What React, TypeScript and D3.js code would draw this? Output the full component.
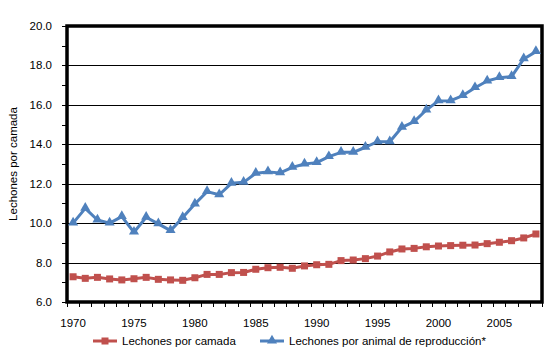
import { useEffect, useRef } from "react";
import * as d3 from "d3";

const years = d3.range(1970, 2009).map(String);

const porCamada = [
  7.28, 7.2, 7.25, 7.17, 7.12, 7.18, 7.25, 7.15, 7.12, 7.1, 7.23, 7.4, 7.4,
  7.49, 7.5, 7.66, 7.74, 7.76, 7.71, 7.83, 7.89, 7.91, 8.1, 8.13, 8.2, 8.33,
  8.54, 8.69, 8.72, 8.8, 8.84, 8.86, 8.88, 8.89, 8.96, 9.03, 9.11, 9.25, 9.45,
];

const porAnimal = [
  10.0, 10.75, 10.16, 10.0, 10.33, 9.54, 10.3, 9.96, 9.62, 10.28, 10.97, 11.6,
  11.44, 12.02, 12.07, 12.53, 12.6, 12.55, 12.83, 13.0, 13.07, 13.37, 13.59,
  13.59, 13.85, 14.13, 14.13, 14.86, 15.15, 15.74, 16.2, 16.21, 16.47, 16.87,
  17.21, 17.38, 17.43, 18.33, 18.7,
];

const yTicks = [6, 8, 10, 12, 14, 16, 18, 20];
const xLabels = ["1970", "1975", "1980", "1985", "1990", "1995", "2000", "2005"];

const RED = "#C0504D";
const BLUE = "#4F81BD";

export default function App() {
  const svgRef = useRef<SVGSVGElement>(null);

  useEffect(() => {
    if (!svgRef.current) return;
    const width = 550;
    const height = 351;
    const m = { left: 67, right: 8, top: 26, bottom: 49 };

    const svg = d3.select(svgRef.current);
    svg.selectAll("*").remove();
    svg.attr("width", width).attr("height", height);

    const font = "Liberation Sans, Arial, sans-serif";

    const x = d3
      .scaleBand<string>()
      .domain(years)
      .range([m.left, width - m.right]);
    const y = d3
      .scaleLinear()
      .domain([6, 20])
      .range([height - m.bottom, m.top]);
    const cx = (i: number) => (x(years[i]) ?? 0) + x.bandwidth() / 2;

    // gridlines
    svg
      .append("g")
      .selectAll("line")
      .data(yTicks.slice(1, -1))
      .join("line")
      .attr("x1", m.left)
      .attr("x2", width - m.right)
      .attr("y1", (d) => Math.round(y(d)) + 0.5)
      .attr("y2", (d) => Math.round(y(d)) + 0.5)
      .attr("stroke", "#000")
      .attr("stroke-width", 1);

    // y ticks, one per unit
    svg
      .append("g")
      .selectAll("line")
      .data(d3.range(6, 21, 1))
      .join("line")
      .attr("x1", m.left - 5)
      .attr("x2", m.left)
      .attr("y1", (d) => Math.round(y(d)) + 0.5)
      .attr("y2", (d) => Math.round(y(d)) + 0.5)
      .attr("stroke", "#000")
      .attr("stroke-width", 1);

    // x ticks at category boundaries
    const bounds = years.map((yr) => x(yr) ?? 0).concat([width - m.right]);
    svg
      .append("g")
      .selectAll("line")
      .data(bounds)
      .join("line")
      .attr("x1", (d) => Math.round(d) + 0.5)
      .attr("x2", (d) => Math.round(d) + 0.5)
      .attr("y1", height - m.bottom)
      .attr("y2", height - m.bottom + 5)
      .attr("stroke", "#000")
      .attr("stroke-width", 1);

    // plot border
    svg
      .append("rect")
      .attr("x", m.left)
      .attr("y", m.top)
      .attr("width", width - m.left - m.right)
      .attr("height", height - m.top - m.bottom)
      .attr("fill", "none")
      .attr("stroke", "#000")
      .attr("stroke-width", 3.5);

    // y labels
    svg
      .append("g")
      .selectAll("text")
      .data(yTicks)
      .join("text")
      .attr("x", m.left - 15)
      .attr("y", (d) => y(d))
      .attr("dy", "0.35em")
      .attr("text-anchor", "end")
      .attr("font-family", font)
      .attr("font-size", 11.5)
      .text((d) => d.toFixed(1));

    // x labels
    svg
      .append("g")
      .selectAll("text")
      .data(xLabels)
      .join("text")
      .attr("x", (d) => (x(d) ?? 0) + x.bandwidth() / 2)
      .attr("y", height - m.bottom + 25)
      .attr("text-anchor", "middle")
      .attr("font-family", font)
      .attr("font-size", 11.5)
      .text((d) => d);

    // y title
    svg
      .append("text")
      .attr("transform", `translate(17,${(m.top + height - m.bottom) / 2}) rotate(-90)`)
      .attr("text-anchor", "middle")
      .attr("font-family", font)
      .attr("font-size", 11.5)
      .text("Lechones por camada");

    const line = d3
      .line<number>()
      .x((_, i) => cx(i))
      .y((d) => y(d));

    const tri = d3.symbol().type(d3.symbolTriangle).size(44);

    // blue series
    svg
      .append("path")
      .datum(porAnimal)
      .attr("d", line)
      .attr("fill", "none")
      .attr("stroke", BLUE)
      .attr("stroke-width", 3)
      .attr("stroke-linejoin", "round");
    svg
      .append("g")
      .selectAll("path")
      .data(porAnimal)
      .join("path")
      .attr("d", tri()!)
      .attr("transform", (d, i) => `translate(${cx(i)},${y(d) - 0.5})`)
      .attr("fill", BLUE);

    // red series
    svg
      .append("path")
      .datum(porCamada)
      .attr("d", line)
      .attr("fill", "none")
      .attr("stroke", RED)
      .attr("stroke-width", 3)
      .attr("stroke-linejoin", "round");
    svg
      .append("g")
      .selectAll("rect")
      .data(porCamada)
      .join("rect")
      .attr("x", (_, i) => cx(i) - 3.5)
      .attr("y", (d) => y(d) - 3.5)
      .attr("width", 7)
      .attr("height", 7)
      .attr("fill", RED);

    // legend
    const ly = 341;
    const legend = [
      { label: "Lechones por camada", color: RED, x0: 93, marker: "square" },
      { label: "Lechones por animal de reproducción*", color: BLUE, x0: 260, marker: "tri" },
    ];
    legend.forEach((it) => {
      svg
        .append("line")
        .attr("x1", it.x0)
        .attr("x2", it.x0 + 24)
        .attr("y1", ly)
        .attr("y2", ly)
        .attr("stroke", it.color)
        .attr("stroke-width", 3);
      if (it.marker === "square") {
        svg
          .append("rect")
          .attr("x", it.x0 + 12 - 3.5)
          .attr("y", ly - 3.5)
          .attr("width", 7)
          .attr("height", 7)
          .attr("fill", it.color);
      } else {
        svg
          .append("path")
          .attr("d", tri()!)
          .attr("transform", `translate(${it.x0 + 12},${ly - 0.5})`)
          .attr("fill", it.color);
      }
      svg
        .append("text")
        .attr("x", it.x0 + 29)
        .attr("y", ly)
        .attr("dy", "0.35em")
        .attr("font-family", font)
        .attr("font-size", 11.5)
        .text(it.label);
    });
  }, []);

  return (
    <div style={{ position: "absolute", left: 0, top: 0 }}>
      <svg ref={svgRef} style={{ display: "block" }} />
    </div>
  );
}
